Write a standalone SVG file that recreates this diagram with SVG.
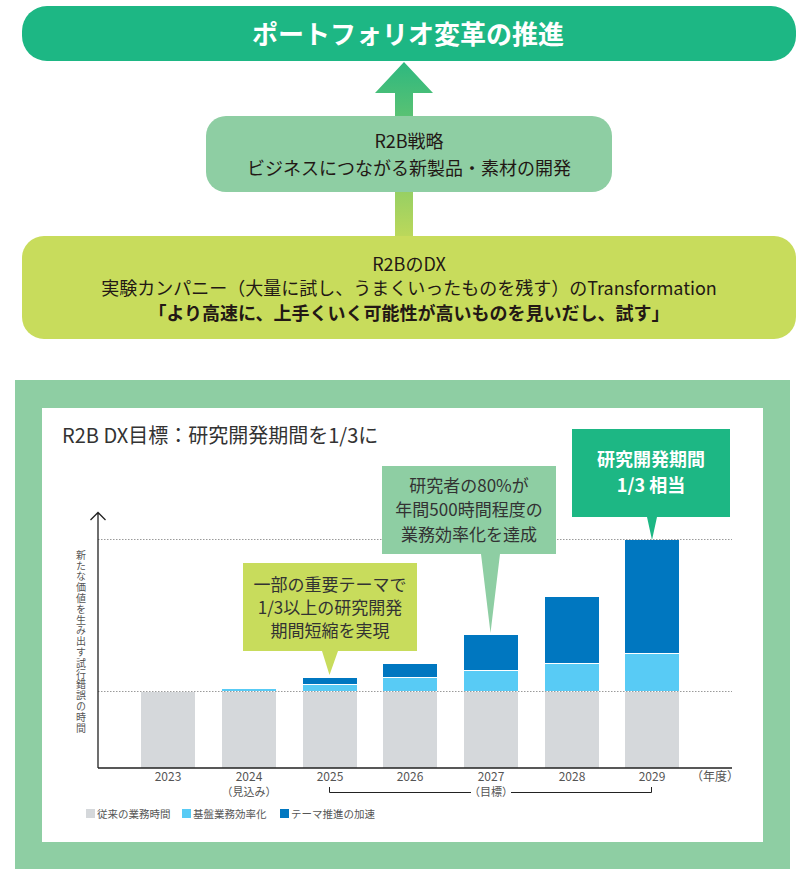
<svg xmlns="http://www.w3.org/2000/svg" width="803" height="874" viewBox="0 0 803 874">
<defs>
<linearGradient id="arrowGrad" x1="0" y1="62" x2="0" y2="237" gradientUnits="userSpaceOnUse">
<stop offset="0" stop-color="#2db87f"/>
<stop offset="1" stop-color="#bcd85a"/>
</linearGradient>
<style>
text{font-family:"Noto Sans CJK JP","Noto Sans",sans-serif;}
.dark{fill:#231815;}
.top18{font-size:18px;text-anchor:middle;}
.co{font-size:17px;text-anchor:middle;fill:#333;}
.xl{font-size:12px;text-anchor:middle;fill:#555;}
.xs{font-size:11px;text-anchor:middle;fill:#555;}
.lg{font-size:10.5px;fill:#555;}
.gray{fill:#d5d8db;}
.lb{fill:#58cbf5;}
.db{fill:#0077c0;}
.dot{stroke:#9a9a9a;stroke-width:1;stroke-dasharray:1.5 1.5;fill:none;}
.axis{stroke:#222;stroke-width:1.3;fill:none;}
</style>
</defs>
<rect width="803" height="874" fill="#fff"/>

<g id="connectors">
<path d="M395 93 H413 V237 H395 Z M375 93 L404 62 L433 93 Z" fill="url(#arrowGrad)"/>
</g>

<g id="node-portfolio">
<rect x="22" y="6" width="774" height="55" rx="25" fill="#1db784"/>
<text x="408" y="44" font-size="26" font-weight="bold" fill="#fff" text-anchor="middle">ポートフォリオ変革の推進</text>
</g>

<g id="node-r2b-strategy">
<rect x="206" y="116" width="406" height="76" rx="20" fill="#8ecea3"/>
<text class="top18 dark" x="409" y="148">R2B戦略</text>
<text class="top18 dark" x="409" y="175">ビジネスにつながる新製品・素材の開発</text>
</g>

<g id="node-r2b-dx">
<rect x="22" y="236" width="774" height="103" rx="22" fill="#c8dc5c"/>
<text class="top18 dark" x="409" y="271">R2BのDX</text>
<text class="top18 dark" x="409" y="295">実験カンパニー（大量に試し、うまくいったものを残す）のTransformation</text>
<text class="top18 dark" x="409" y="320" font-weight="bold">「より高速に、上手くいく可能性が高いものを見いだし、試す」</text>
</g>

<g id="panel">
<rect x="15" y="380" width="775" height="489" fill="#8ecea3"/>
<rect x="42" y="408" width="721" height="434" fill="#fff"/>
<text x="62" y="443" font-size="20" fill="#333">R2B DX目標：研究開発期間を1/3に</text>
</g>

<g id="chart">
<line class="dot" x1="98" y1="539.5" x2="732" y2="539.5"/>
<line class="dot" x1="98" y1="691.5" x2="732" y2="691.5"/>
<text x="81" y="550" font-size="10" fill="#555" style="writing-mode:vertical-rl;letter-spacing:0.8px">新たな価値を生み出す試行錯誤の時間</text>

<g id="bar-2023"><rect class="gray" x="141" y="692" width="54" height="76"/></g>
<g id="bar-2024"><rect class="gray" x="222" y="692" width="54" height="76"/><rect class="lb" x="222" y="689" width="54" height="2"/></g>
<g id="bar-2025"><rect class="gray" x="303" y="692" width="54" height="76"/><rect class="lb" x="303" y="685" width="54" height="6"/><rect class="db" x="303" y="678" width="54" height="6"/></g>
<g id="bar-2026"><rect class="gray" x="383" y="692" width="54" height="76"/><rect class="lb" x="383" y="678" width="54" height="13"/><rect class="db" x="383" y="664" width="54" height="13"/></g>
<g id="bar-2027"><rect class="gray" x="464" y="692" width="54" height="76"/><rect class="lb" x="464" y="671" width="54" height="20"/><rect class="db" x="464" y="635" width="54" height="35"/></g>
<g id="bar-2028"><rect class="gray" x="545" y="692" width="54" height="76"/><rect class="lb" x="545" y="664" width="54" height="27"/><rect class="db" x="545" y="597" width="54" height="66"/></g>
<g id="bar-2029"><rect class="gray" x="625" y="692" width="54" height="76"/><rect class="lb" x="625" y="654" width="54" height="37"/><rect class="db" x="625" y="540" width="54" height="113"/></g>

<path class="axis" d="M98 768 V512.5 M90.5 520 L98 512.5 L105.5 520 M98 768 H732"/>

<text class="xl" x="168" y="781">2023</text>
<text class="xl" x="249" y="781">2024</text>
<text class="xs" x="249" y="796">（見込み）</text>
<text class="xl" x="330" y="781">2025</text>
<text class="xl" x="410" y="781">2026</text>
<text class="xl" x="491" y="781">2027</text>
<text class="xs" x="491" y="796">（目標）</text>
<text class="xl" x="572" y="781">2028</text>
<text class="xl" x="652" y="781">2029</text>
<text class="xl" x="715" y="781">（年度）</text>
<path d="M329.5 787 V792.5 H471 M511 792.5 H651.5 V787" fill="none" stroke="#222" stroke-width="1"/>

<rect class="gray" x="86" y="809" width="9" height="9"/>
<text class="lg" x="97" y="817.5">従来の業務時間</text>
<rect class="lb" x="182" y="809" width="9" height="9"/>
<text class="lg" x="193" y="817.5">基盤業務効率化</text>
<rect class="db" x="280" y="809" width="9" height="9"/>
<text class="lg" x="291" y="817.5">テーマ推進の加速</text>
</g>

<g id="callout-2025">
<path d="M243 563 H417 V651 H338 L329.5 675 L322 651 H243 Z" fill="#c8dc5c"/>
<text class="co" x="330" y="591">一部の重要テーマで</text>
<text class="co" x="330" y="614">1/3以上の研究開発</text>
<text class="co" x="330" y="637">期間短縮を実現</text>
</g>

<g id="callout-2027">
<path d="M382 466 H556 V554 H500 L490.5 633 L481 554 H382 Z" fill="#8ecea3"/>
<text class="co" x="469" y="492">研究者の80%が</text>
<text class="co" x="469" y="516">年間500時間程度の</text>
<text class="co" x="469" y="541">業務効率化を達成</text>
</g>

<g id="callout-2029">
<path d="M572 429 H730 V517 H657 L652 540 L647 517 H572 Z" fill="#1db784"/>
<text x="651" y="466" font-size="18" font-weight="bold" fill="#fff" text-anchor="middle">研究開発期間</text>
<text x="651" y="492" font-size="18" font-weight="bold" fill="#fff" text-anchor="middle">1/3 相当</text>
</g>
</svg>
